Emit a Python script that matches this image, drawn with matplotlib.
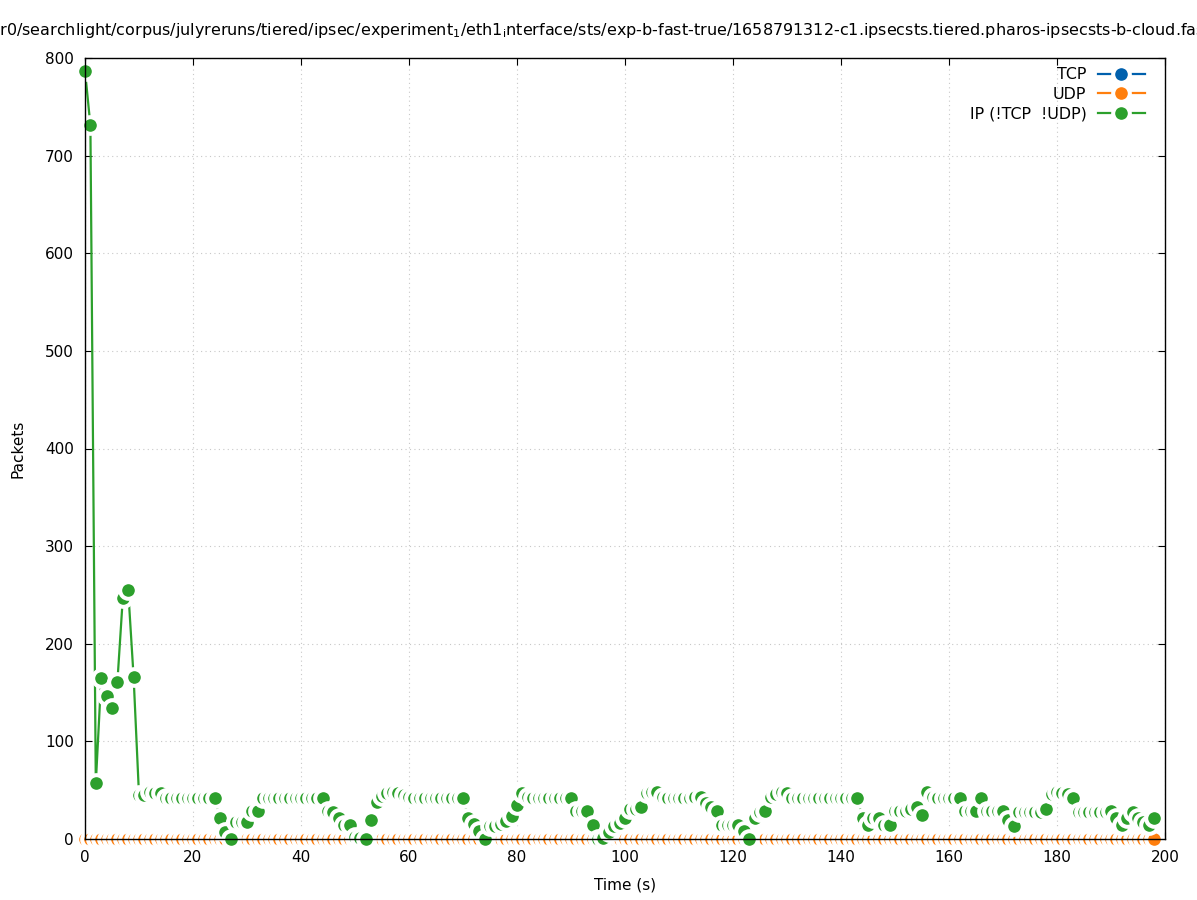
import numpy as np
from matplotlib import pyplot as plt

# packets per second (x = 0..198 s)
time_s = np.arange(199)
tcp = [0] * 199
udp = [0] * 199
ip = [787, 731, 57, 165, 146, 134, 161, 247, 255, 166,
      45, 45, 48, 47, 47, 42, 42, 42, 42, 42,
      42, 42, 42, 42, 42, 21, 7, 0, 17, 17,
      17, 29, 29, 42, 42, 42, 42, 42, 42, 42,
      42, 42, 42, 42, 42, 29, 28, 21, 14, 14,
      2, 1, 0, 19, 38, 44, 47, 48, 47, 45,
      43, 42, 42, 42, 42, 42, 42, 42, 42, 42,
      42, 22, 15, 8, 0, 13, 13, 15, 18, 24,
      35, 47, 43, 42, 42, 42, 42, 42, 42, 42,
      42, 29, 29, 29, 14, 0, 1, 7, 13, 16,
      21, 31, 31, 33, 47, 48, 48, 43, 42, 42,
      42, 42, 42, 43, 43, 37, 33, 29, 14, 14,
      14, 14, 8, 0, 21, 28, 29, 43, 46, 48,
      47, 42, 42, 42, 42, 42, 42, 42, 42, 42,
      42, 42, 42, 42, 22, 14, 21, 21, 14, 14,
      29, 29, 29, 31, 33, 25, 48, 43, 42, 42,
      42, 42, 42, 29, 29, 29, 42, 29, 29, 29,
      29, 19, 13, 28, 28, 28, 28, 28, 31, 46,
      48, 47, 46, 42, 28, 28, 28, 28, 28, 28,
      29, 21, 14, 21, 28, 21, 17, 14, 21]

names = ['TCP', 'UDP', 'IP (!TCP  !UDP)']
colors = ['#0060ad', '#ff7f0e', '#2ca02c']

# the title is a long path that runs off both edges of the picture
title_hidden = '/home/use'
title = (title_hidden + 'r0/searchlight/corpus/julyreruns/tiered/ipsec/experiment$_1$/'
         'eth1$_\\mathrm{i}$nterface/sts/exp-b-fast-true/'
         '1658791312-c1.ipsecsts.tiered.pharos-ipsecsts-b-cloud.fast-true.pcap')

def plotPackets():
	plt.rcParams['font.family'] = 'DejaVu Sans'
	fig = plt.figure(figsize=(11.97, 9), dpi=100)
	ax = fig.add_axes([85/1197, 1-839/900, 1080/1197, 781/900])

	handles = []
	for i, (name, vals, col) in enumerate(zip(names, [tcp, udp, ip], colors)):
		# line first, then the dots with a white rim on top (gnuplot pointinterval look)
		ax.plot(time_s, vals, color=col, lw=1.6, zorder=3+2*i, clip_on=False)
		ax.plot(time_s, vals, ls='none', marker='o', ms=12, mfc=col, mec='white',
				mew=2.9, zorder=4+2*i, clip_on=False)
		h, = ax.plot([], [], color=col, lw=1.6, marker='o', ms=12, mfc=col,
					 mec='white', mew=2.9, label=name)
		handles.append(h)

	ax.set_xlim(0, 200)
	ax.set_ylim(0, 800)
	ax.set_xticks(np.arange(0, 201, 20))
	ax.set_yticks(np.arange(0, 801, 100))
	ax.tick_params(direction='in', length=5, width=0.8, top=True, right=True,
				   labelsize=11, pad=8)
	ax.grid(True, color='#c8c8c8', lw=0.8, ls=(0, (1, 3)))
	for s in ax.spines.values():
		s.set_zorder(20); s.set_linewidth(1.0)

	ax.set_xlabel('Time (s)', fontsize=11, labelpad=9)
	ax.set_ylabel('Packets', fontsize=11, labelpad=14)

	# shift the title left so that the hidden part falls outside the figure
	r = fig.canvas.get_renderer()
	probe = fig.text(0, 0, title_hidden, fontsize=11.5)
	w = probe.get_window_extent(r).width / fig.bbox.width
	probe.remove()
	fig.text(-w, 1-31/900, title, ha='left', va='center', fontsize=11.5)

	ax.legend(handles=handles, loc='upper right', bbox_to_anchor=(0.9815, 0.988),
			  frameon=False, markerfirst=False, numpoints=1, handlelength=3.0,
			  handletextpad=0.7, borderpad=0, borderaxespad=0, labelspacing=0.28,
			  fontsize=11.4)
	fig.savefig('out.png', dpi=100)

plotPackets()
